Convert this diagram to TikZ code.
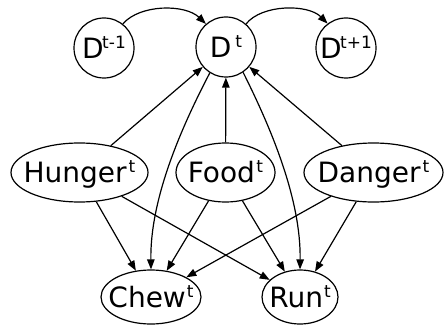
\documentclass[tikz,border=0pt]{standalone}
\usepackage{fontspec}
\setmainfont{DejaVu Sans}
\usetikzlibrary{arrows.meta,shapes.geometric}
\newcommand{\Sup}[2][0pt]{\kern#1\raisebox{10pt}{\fontsize{17pt}{17pt}\selectfont #2}}
\begin{document}
\begin{tikzpicture}[x=1pt,y=-1pt,
  every label/.style={font=\fontsize{28pt}{30pt}\selectfont, text height=20.3pt, text depth=0pt, inner sep=0pt},
  cnode/.style={draw, circle, minimum size=60pt, inner sep=0pt, line width=1.2pt},
  enode/.style={draw, ellipse, inner sep=0pt, line width=1.2pt},
  arr/.style={-{Triangle[length=10pt,width=7.5pt]}, line width=1.2pt}]
\useasboundingbox (0,0) rectangle (444,329);
% circles
\node[cnode, label={center:D\Sup[-1.5pt]{t-1}}] (Dm) at (104,48) {};
\node[cnode, label={center:D\Sup[4pt]{t}}] (Dt) at (226,47) {};
\node[cnode, label={center:D\Sup[-1.5pt]{t+1}}] (Dp) at (346,48) {};
% middle row
\node[enode, minimum width=137pt, minimum height=59pt, label={center:Hunger\Sup[2pt]{t}}] (H) at (79.5,172.5) {};
\node[enode, minimum width=99pt, minimum height=59pt, label={center:Food\Sup[1.5pt]{t}}] (F) at (225.5,172.5) {};
\node[enode, minimum width=139pt, minimum height=59pt, label={center:Danger\Sup[2pt]{t}}] (G) at (373.5,172.5) {};
% bottom row
\node[enode, minimum width=100pt, minimum height=54pt, label={center:Chew\Sup[1pt]{t}}] (C) at (151,297) {};
\node[enode, minimum width=76pt, minimum height=54pt, label={center:Run\Sup[1pt]{t}}] (R) at (300,297) {};
% temporal arcs
\draw[arr] (Dm.52) .. controls (140,4) and (185,4) .. (Dt.131);
\draw[arr] (Dt.49) .. controls (262,4) and (308,4) .. (Dp.127);
% into D^t
\draw[arr] (H) -- (Dt);
\draw[arr] (F) -- (Dt);
\draw[arr] (G) -- (Dt);
% D^t to actions
\draw[arr] (Dt.238) .. controls (180,130) and (150,200) .. (C.north);
\draw[arr] (Dt.304) .. controls (272,130) and (301,200) .. (R.north);
% to actions
\draw[arr] (H) -- (C);
\draw[arr] (H) -- (R);
\draw[arr] (F) -- (C);
\draw[arr] (F) -- (R);
\draw[arr] (G) -- (C);
\draw[arr] (G) -- (R);
\end{tikzpicture}
\end{document}
